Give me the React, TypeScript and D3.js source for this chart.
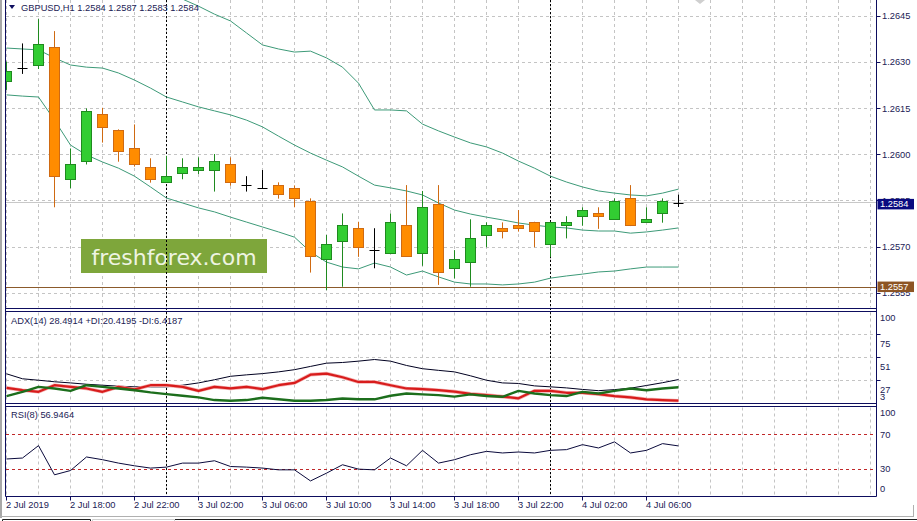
import React from "react";
import * as d3 from "d3";

// ---------- data ----------
const timeLabels = [
  "2 Jul 2019", "2 Jul 18:00", "2 Jul 22:00", "3 Jul 02:00", "3 Jul 06:00",
  "3 Jul 10:00", "3 Jul 14:00", "3 Jul 18:00", "3 Jul 22:00", "4 Jul 02:00", "4 Jul 06:00",
];
const daySeparators = [10, 34]; // candle index where a new day starts

const open = [
  1.26237, 1.2628, 1.26289, 1.26348, 1.2592, 1.25977, 1.26131, 1.26079, 1.2602, 1.25959,
  1.2591, 1.25939, 1.25948, 1.25948, 1.25968, 1.259, 1.25891, 1.259, 1.25889, 1.25848,
  1.2566, 1.25719, 1.25761, 1.2569, 1.2568, 1.25769, 1.2568, 1.25839, 1.25631, 1.2565,
  1.25738, 1.25761, 1.25769, 1.2578, 1.25709, 1.2577, 1.258, 1.25809, 1.2579, 1.25858,
  1.2578, 1.25809, 1.2584,
];
const high = [
  1.26302, 1.26361, 1.2644, 1.26401, 1.2602, 1.2615, 1.26152, 1.26082, 1.26098, 1.25988,
  1.25996, 1.25988, 1.25991, 1.26002, 1.25991, 1.2593, 1.2595, 1.2591, 1.259, 1.25858,
  1.25739, 1.25809, 1.25782, 1.25761, 1.25809, 1.25901, 1.25882, 1.25901, 1.2569, 1.2579,
  1.2578, 1.2578, 1.2582, 1.25782, 1.25782, 1.258, 1.25829, 1.25829, 1.25858, 1.25901,
  1.25829, 1.25858, 1.2587,
];
const low = [
  1.2621, 1.26262, 1.26278, 1.25829, 1.25891, 1.25968, 1.26039, 1.25977, 1.25961, 1.25909,
  1.25908, 1.2592, 1.25937, 1.2588, 1.25899, 1.2588, 1.2589, 1.25857, 1.25829, 1.25617,
  1.2556, 1.25571, 1.25668, 1.25631, 1.25678, 1.25668, 1.25639, 1.25577, 1.25598, 1.25571,
  1.25699, 1.25728, 1.2575, 1.25699, 1.25668, 1.25728, 1.25769, 1.25759, 1.25788, 1.25768,
  1.25778, 1.25779, 1.2583,
];
const close = [
  1.26269, 1.2628, 1.26359, 1.25928, 1.25968, 1.26141, 1.26089, 1.26009, 1.25968, 1.2592,
  1.2593, 1.25959, 1.25959, 1.25978, 1.25909, 1.259, 1.25891, 1.25869, 1.25858, 1.25668,
  1.25709, 1.25769, 1.25699, 1.2569, 1.2578, 1.25668, 1.25829, 1.25618, 1.2566, 1.25728,
  1.25769, 1.25751, 1.25759, 1.25751, 1.2578, 1.2578, 1.25819, 1.258, 1.25848, 1.2577,
  1.2579, 1.25848, 1.2584,
];

const bbUpper = [
  1.266, 1.266, 1.266, 1.266, 1.2658, 1.2657, 1.2656, 1.2655, 1.2654, 1.26545,
  1.26526, 1.26505, 1.26482, 1.26456, 1.26434, 1.26395, 1.26356, 1.26343, 1.26333, 1.26336,
  1.26314, 1.26284, 1.26232, 1.26145, 1.26145, 1.26142, 1.26099, 1.26077, 1.26057, 1.26038,
  1.26025, 1.26005, 1.25979, 1.25956, 1.2593, 1.25911, 1.25895, 1.25882, 1.25875, 1.25869,
  1.25866, 1.25875, 1.25888,
];
const bbMiddle = [
  1.26346, 1.26343, 1.2634, 1.26314, 1.26291, 1.26284, 1.26281, 1.26265, 1.26242, 1.26216,
  1.26187, 1.26171, 1.26155, 1.26142, 1.26129, 1.26112, 1.2609, 1.2606, 1.26031, 1.26005,
  1.25982, 1.2596, 1.2593, 1.25901, 1.25892, 1.25882, 1.25869, 1.25843, 1.2582, 1.25807,
  1.25797, 1.25788, 1.25778, 1.25771, 1.25765, 1.25762, 1.25755, 1.25752, 1.25752, 1.25745,
  1.25749, 1.25755, 1.25762,
];
const bbLower = [
  1.26194, 1.2619, 1.26187, 1.26112, 1.26031, 1.25999, 1.25976, 1.25956, 1.2593, 1.25895,
  1.25859, 1.25843, 1.25827, 1.25814, 1.25797, 1.25781, 1.25765, 1.25749, 1.25732, 1.25684,
  1.25651, 1.25635, 1.25629, 1.25648, 1.25635, 1.25609, 1.25622, 1.25603, 1.25586, 1.2558,
  1.2558, 1.25577, 1.2558, 1.25586, 1.25599, 1.25606, 1.25612, 1.25619, 1.25622, 1.25629,
  1.25635, 1.25635, 1.25635,
];

const adx = [
  34.5, 29.3, 27.8, 26.2, 25.0, 23.6, 22.6, 21.6, 20.9, 20.9,
  20.9, 22.6, 25.0, 28.3, 31.9, 33.4, 34.7, 36.5, 38.8, 42.2,
  45.6, 46.3, 47.7, 49.4, 47.7, 43.2, 39.8, 38.1, 36.5, 32.4,
  27.8, 25.0, 24.4, 21.9, 20.9, 19.8, 18.2, 16.9, 18.0, 19.5,
  22.3, 25.2, 28.49,
];
const plusDI = [
  11.3, 15.7, 20.9, 19.2, 16.7, 22.6, 20.9, 19.2, 17.4, 15.1,
  13.3, 11.6, 9.9, 7.1, 6.4, 7.1, 9.5, 7.9, 6.4, 6.4,
  7.1, 8.7, 7.9, 7.9, 11.6, 14.0, 13.0, 12.3, 10.7, 13.0,
  11.3, 10.5, 16.7, 14.0, 12.3, 11.3, 15.7, 14.0, 16.7, 19.2,
  17.4, 19.2, 20.42,
];
const minusDI = [
  19.8, 17.4, 15.7, 22.6, 20.9, 19.2, 15.7, 20.9, 18.2, 22.6,
  22.6, 20.9, 16.7, 20.9, 19.2, 20.9, 18.5, 22.6, 25.0, 33.6,
  34.7, 30.9, 26.0, 26.0, 22.6, 19.2, 18.5, 17.4, 15.9, 13.6,
  12.3, 10.7, 8.9, 16.7, 16.7, 14.7, 14.7, 13.3, 11.3, 9.9,
  7.9, 7.1, 6.42,
];
const rsi = [
  42.0, 43.1, 57.3, 23.9, 28.8, 44.3, 41.2, 37.3, 34.2, 31.6,
  32.7, 37.3, 37.3, 40.0, 33.4, 32.7, 31.6, 29.6, 29.6, 16.9,
  25.8, 35.4, 30.4, 29.6, 43.1, 34.2, 51.9, 37.3, 41.2, 46.9,
  50.7, 48.9, 50.0, 48.9, 51.9, 52.7, 58.4, 54.6, 61.6, 48.9,
  51.9, 59.6, 56.95,
];

const priceTicks = [1.2645, 1.263, 1.2615, 1.26, 1.2585, 1.257, 1.2555];
const adxTicks = [100, 75, 51, 27, 3];
const rsiLevels = [70, 30];
const rsiTicks = [100, 70, 30, 0];
const bidPrice = 1.2584;
const linePrice = 1.2557;

// ---------- styles ----------
const W = 917;
const H = 521;
const FONT = "'Liberation Sans', Arial, sans-serif";
const NAVY = "#0d0d5e";
const TXT = "#1b1b55";
const GRID = "#c4c4c4";
const BULL_FILL = "#32cd32";
const BULL_LINE = "#1f8a1f";
const BEAR_FILL = "#ff8c00";
const BEAR_LINE = "#cf6a12";
const BAND = "#3d9a78";

const n = close.length;
const LEFT = 5.5;
const AXIS = 876.5;
const MAIN_TOP = 0;
const MAIN_BOT = 308.5;
const ADX_TOP = 311.5;
const ADX_BOT = 403.5;
const RSI_TOP = 406.5;
const RSI_BOT = 496.5;

const crisp = (v: number) => Math.round(v - 0.5) + 0.5;

export default function App() {
  const x = d3.scaleLinear().domain([0, n - 1]).range([6.5, 6.5 + 16 * (n - 1)]);
  const y = d3.scaleLinear().domain([1.25502, 1.26502]).range([308, 0]);
  const ya = d3.scaleLinear().domain([3, 100]).range([404, 311]);
  const yr = d3.scaleLinear().domain([0, 100]).range([495.7, 408.3]);

  const idx = d3.range(n);
  const gridIdx = d3.range(0, 56, 2).filter((i) => x(i) < AXIS - 2);

  const mkLine = (vals: number[], sc: d3.ScaleLinear<number, number>) =>
    d3.line<number>().x((_, i) => x(i)).y((v) => sc(v))(vals) || "";

  const vGrid = (top: number, bot: number, key: string) =>
    gridIdx.map((i) => (
      <line key={key + i} x1={x(i)} x2={x(i)} y1={top} y2={bot} stroke={GRID} strokeDasharray="3,3" />
    ));

  return (
    <svg
      width={W}
      height={H}
      style={{ position: "absolute", left: 0, top: 0, background: "#fff" }}
      fontFamily={FONT}
    >
      <defs>
        <clipPath id="cMain"><rect x={6} y={0} width={870} height={308} /></clipPath>
        <clipPath id="cAdx"><rect x={6} y={312} width={870} height={91} /></clipPath>
        <clipPath id="cRsi"><rect x={6} y={407} width={870} height={89} /></clipPath>
      </defs>
      <rect x={0} y={0} width={W} height={H} fill="#ffffff" />

      {/* ---------- grids ---------- */}
      {vGrid(0, MAIN_BOT - 1, "gm")}
      {vGrid(ADX_TOP + 1, ADX_BOT - 1, "ga")}
      {vGrid(RSI_TOP + 1, RSI_BOT - 1, "gr")}
      {priceTicks.map((p) => (
        <line key={"hp" + p} x1={6} x2={AXIS} y1={crisp(y(p))} y2={crisp(y(p))} stroke={GRID} strokeDasharray="3,3" />
      ))}
      {adxTicks.slice(1, 4).map((v) => (
        <line key={"ha" + v} x1={6} x2={AXIS} y1={crisp(ya(v))} y2={crisp(ya(v))} stroke={GRID} strokeDasharray="3,3" />
      ))}

      {/* watermark */}
      <rect x={81} y={239} width={186} height={34} fill="#7ea63b" />
      <text x={174} y={265} textAnchor="middle" fontSize={22} fontFamily="'DejaVu Sans', Verdana, sans-serif" fill="#eef4e2">
        freshforex.com
      </text>

      {/* bid line & horizontal line */}
      <line x1={6} x2={AXIS} y1={crisp(y(bidPrice)) - 1} y2={crisp(y(bidPrice)) - 1} stroke="#c8c8c8" />
      <line x1={6} x2={AXIS} y1={crisp(y(linePrice))} y2={crisp(y(linePrice))} stroke="#8b5a2b" />

      {/* day separators */}
      {daySeparators.map((i) => (
        <line key={"ds" + i} x1={x(i)} x2={x(i)} y1={0} y2={RSI_BOT} stroke="#000" strokeDasharray="2,2" />
      ))}

      {/* ---------- main panel ---------- */}
      <g clipPath="url(#cMain)">
        <path d={mkLine(bbUpper, y)} fill="none" stroke={BAND} strokeWidth={1} />
        <path d={mkLine(bbMiddle, y)} fill="none" stroke={BAND} strokeWidth={1} />
        <path d={mkLine(bbLower, y)} fill="none" stroke={BAND} strokeWidth={1} />
        {idx.map((i) => {
          const cx = x(i);
          const o = open[i];
          const c = close[i];
          const doji = o === c;
          const bull = c > o;
          const line = doji ? "#000" : bull ? BULL_LINE : BEAR_LINE;
          const fill = bull ? BULL_FILL : BEAR_FILL;
          const top = crisp(y(Math.max(o, c)));
          const bot = crisp(y(Math.min(o, c)));
          return (
            <g key={"c" + i}>
              <line x1={cx} x2={cx} y1={y(high[i])} y2={y(low[i])} stroke={line} />
              {doji ? (
                <line x1={cx - 5} x2={cx + 5} y1={top} y2={top} stroke="#000" />
              ) : (
                <rect x={cx - 5} y={top} width={10} height={Math.max(1, bot - top)} fill={fill} stroke={line} />
              )}
            </g>
          );
        })}
      </g>
      <text x={21} y={7.5} dy="0.35em" fontSize={9.3} fill={TXT}>
        GBPUSD,H1  1.2584 1.2587 1.2583 1.2584
      </text>
      <path d="M9,5 L15,5 L12,9 Z" fill={NAVY} />
      <path d="M695,0 L705,0 L700,4 Z" fill="#cfcfcf" />

      {/* ---------- ADX panel ---------- */}
      <g clipPath="url(#cAdx)">
        <path d={mkLine(adx, ya)} fill="none" stroke="#000020" strokeWidth={1} />
        <path d={mkLine(minusDI, ya)} fill="none" stroke="#f4b0b0" strokeWidth={3.6} strokeLinejoin="round" />
        <path d={mkLine(minusDI, ya)} fill="none" stroke="#d81c1c" strokeWidth={2.2} strokeLinejoin="round" />
        <path d={mkLine(plusDI, ya)} fill="none" stroke="#1c6e1c" strokeWidth={2.4} strokeLinejoin="round" />
      </g>
      <text x={11} y={320.5} dy="0.35em" fontSize={9.3} fill={TXT}>
        ADX(14) 28.4914 +DI:20.4195 -DI:6.4187
      </text>

      {/* ---------- RSI panel ---------- */}
      {rsiLevels.map((v) => (
        <line key={"rl" + v} x1={6} x2={AXIS} y1={crisp(yr(v))} y2={crisp(yr(v))} stroke="#c0282a" strokeDasharray="3,3" />
      ))}
      <g clipPath="url(#cRsi)">
        <path d={mkLine(rsi, yr)} fill="none" stroke="#0a0a3c" strokeWidth={1} />
      </g>
      <text x={11} y={415} dy="0.35em" fontSize={9.3} fill={TXT}>
        RSI(8) 56.9464
      </text>

      {/* ---------- frames ---------- */}
      <rect x={0} y={0} width={2} height={518} fill="#a8a8a8" />
      <line x1={LEFT} x2={LEFT} y1={0} y2={RSI_BOT} stroke={NAVY} />
      <line x1={AXIS} x2={AXIS} y1={0} y2={RSI_BOT} stroke={NAVY} />
      {[MAIN_BOT, ADX_TOP, ADX_BOT, RSI_TOP, RSI_BOT].map((yy) => (
        <line key={"f" + yy} x1={LEFT} x2={AXIS} y1={yy} y2={yy} stroke={NAVY} />
      ))}

      {/* ---------- price axis ---------- */}
      {priceTicks.map((p) => (
        <g key={"pt" + p}>
          <line x1={AXIS} x2={AXIS + 4} y1={crisp(y(p))} y2={crisp(y(p))} stroke={NAVY} />
          <text x={882} y={y(p)} dy="0.35em" fontSize={9.3} fill={TXT}>
            {p.toFixed(4)}
          </text>
        </g>
      ))}
      <rect x={877.5} y={y(bidPrice) - 5} width={36.5} height={10.5} fill="#0a0a80" />
      <text x={880} y={y(bidPrice)} dy="0.35em" fontSize={9.3} fill="#fff">
        {bidPrice.toFixed(4)}
      </text>
      <rect x={877.5} y={y(linePrice) - 5.5} width={36.5} height={10.5} fill="#8d5524" />
      <text x={880} y={y(linePrice)} dy="0.35em" fontSize={9.3} fill="#fff">
        {linePrice.toFixed(4)}
      </text>

      {/* ADX axis */}
      {adxTicks.map((v, i) => (
        <g key={"at" + v}>
          {i > 0 && i < 4 && <line x1={AXIS} x2={AXIS + 4} y1={crisp(ya(v))} y2={crisp(ya(v))} stroke={NAVY} />}
          <text x={880} y={[318, 344, 367, 390, 397][i]} dy="0.35em" fontSize={9.3} fill={TXT}>
            {v}
          </text>
        </g>
      ))}

      {/* RSI axis */}
      {rsiTicks.map((v, i) => (
        <text key={"rt" + v} x={880} y={[413, 434.5, 469, 489][i]} dy="0.35em" fontSize={9.3} fill={TXT}>
          {v}
        </text>
      ))}

      {/* ---------- time axis ---------- */}
      {timeLabels.map((t, j) => {
        const xx = x(j * 4);
        return (
          <g key={"tl" + j}>
            <line x1={xx} x2={xx} y1={RSI_BOT} y2={RSI_BOT + 4} stroke={NAVY} />
            <text x={xx - 0.5} y={505} dy="0.35em" fontSize={9.3} fill={TXT}>
              {t}
            </text>
          </g>
        );
      })}

      {/* bottom tab bar */}
      <line x1={0} x2={914} y1={516.5} y2={516.5} stroke="#b0b0b0" />
      <line x1={175} x2={917} y1={519.5} y2={519.5} stroke="#202020" />
      <path d="M2.5,521 L2.5,519.5 L90.5,519.5 L90.5,521" fill="none" stroke="#202020" />
      <path d="M92.5,521 L92.5,519.5 L174.5,519.5 L174.5,521" fill="none" stroke="#d0d0d0" />
      <line x1={913.5} x2={913.5} y1={505} y2={517} stroke="#b0b0b0" />
    </svg>
  );
}
